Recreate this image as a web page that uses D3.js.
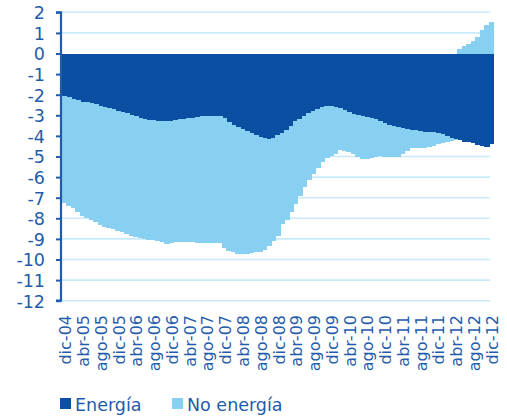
<!DOCTYPE html>
<html>
<head>
<meta charset="utf-8">
<script src="https://cdn.jsdelivr.net/npm/d3@7"></script>
<style>
  html, body { margin: 0; padding: 0; background: #fff; }
  svg { display: block; }
</style>
</head>
<body>
<svg id="chart" width="507" height="417"></svg>
<script>
// ---- Data ----
const monthNames = ["ene","feb","mar","abr","may","jun","jul","ago","sep","oct","nov","dic"];
const startYear = 2004, startMonth = 11; // dic-04
const nMonths = 97;
const categories = [];
for (let k = 0; k < nMonths; k++) {
  const m = (startMonth + k) % 12;
  const y = startYear + Math.floor((startMonth + k) / 12);
  categories.push(monthNames[m] + "-" + String(y % 100).padStart(2, "0"));
}

const energia = [
  -2.06,-2.12,-2.22,-2.28,-2.34,-2.37,-2.41,-2.46,-2.54,-2.60,
  -2.66,-2.71,-2.78,-2.85,-2.90,-2.97,-3.05,-3.14,-3.19,-3.22,
  -3.24,-3.27,-3.29,-3.28,-3.26,-3.22,-3.19,-3.16,-3.13,-3.11,
  -3.08,-3.05,-3.03,-3.02,-3.02,-3.03,-3.15,-3.32,-3.45,-3.58,
  -3.68,-3.77,-3.86,-3.95,-4.03,-4.10,-4.15,-4.12,-3.95,-3.88,
  -3.70,-3.50,-3.30,-3.17,-3.02,-2.88,-2.77,-2.68,-2.60,-2.56,
  -2.55,-2.60,-2.66,-2.76,-2.85,-2.93,-2.99,-3.05,-3.10,-3.15,
  -3.20,-3.30,-3.38,-3.47,-3.54,-3.58,-3.62,-3.65,-3.69,-3.72,
  -3.77,-3.82,-3.83,-3.83,-3.88,-3.93,-4.00,-4.08,-4.15,-4.21,
  -4.28,-4.32,-4.36,-4.42,-4.50,-4.53,-4.40
];

const noEnergia = [
  -5.18,-5.28,-5.30,-5.42,-5.53,-5.63,-5.69,-5.74,-5.78,-5.80,
  -5.81,-5.81,-5.82,-5.83,-5.88,-5.90,-5.88,-5.82,-5.81,-5.82,
  -5.82,-5.83,-5.85,-5.98,-5.94,-5.94,-5.95,-5.99,-6.03,-6.06,
  -6.10,-6.16,-6.16,-6.16,-6.18,-6.19,-6.31,-6.26,-6.20,-6.17,
  -6.06,-5.96,-5.84,-5.71,-5.59,-5.46,-5.20,-4.98,-4.90,-4.42,
  -4.40,-4.20,-4.00,-3.73,-3.48,-3.27,-3.08,-2.87,-2.65,-2.49,
  -2.42,-2.28,-2.04,-1.96,-1.95,-1.97,-2.03,-2.07,-2.00,-1.91,
  -1.80,-1.68,-1.62,-1.57,-1.48,-1.42,-1.28,-1.10,-0.89,-0.85,
  -0.83,-0.78,-0.72,-0.64,-0.52,-0.40,-0.28,-0.15,-0.05, 0.20,
   0.37, 0.48, 0.62, 0.82, 1.12, 1.36, 1.55
];

const seriesNames = ["Energía", "No energía"];
const yTicks = [2,1,0,-1,-2,-3,-4,-5,-6,-7,-8,-9,-10,-11,-12];
const tickLabels = ["dic-04","abr-05","ago-05","dic-05","abr-06","ago-06","dic-06","abr-07","ago-07","dic-07",
  "abr-08","ago-08","dic-08","abr-09","ago-09","dic-09","abr-10","ago-10","dic-10","abr-11","ago-11","dic-11",
  "abr-12","ago-12","dic-12"];

// ---- Styles ----
const colors = { "Energía": "#0b4fa2", "No energía": "#88d0f2" };
const axisColor = "#1f5cab";
const gridColor = "#c9eaf8";
const font = "'DejaVu Sans', sans-serif";

// ---- Build ----
const rows = categories.map((c, i) => ({ cat: c, "Energía": energia[i], "No energía": noEnergia[i] }));
const stack = d3.stack().keys(seriesNames).offset(d3.stackOffsetDiverging);
const stacked = stack(rows);

const svg = d3.select("#chart");
const x = d3.scaleBand().domain(categories).range([62, 493]).padding(0);
const y = d3.scaleLinear().domain([-12, 2]).range([300.7, 12.3]);

// gridlines
svg.append("g").selectAll("line").data(yTicks.filter(t => t !== 0)).join("line")
  .attr("x1", 62).attr("x2", 490)
  .attr("y1", d => y(d)).attr("y2", d => y(d))
  .attr("stroke", gridColor).attr("stroke-width", 1.6);

// bars
svg.append("g").attr("shape-rendering", "crispEdges")
  .selectAll("g").data(stacked).join("g")
  .attr("fill", d => colors[d.key])
  .selectAll("rect").data(d => d).join("rect")
  .attr("x", d => x(d.data.cat))
  .attr("width", x.bandwidth() + 1)
  .attr("y", d => y(Math.max(d[0], d[1])))
  .attr("height", d => Math.abs(y(d[0]) - y(d[1])));

// y axis
const yAxis = d3.axisLeft(y).tickValues(yTicks).tickSize(5).tickPadding(11).tickFormat(d3.format("d"));
const gy = svg.append("g").attr("transform", "translate(61,0)").call(yAxis);
gy.select(".domain").attr("stroke", axisColor).attr("stroke-width", 2.2).attr("d", `M-5,${y(2)}H0V${y(-12)}H-5`);
gy.selectAll(".tick line").attr("stroke", axisColor).attr("stroke-width", 2);
gy.selectAll(".tick text")
  .attr("fill", axisColor).attr("font-family", font).attr("font-size", 17.5).attr("dy", "0.36em")
  .text(d => d < 0 ? "-" + Math.abs(d) : d);

// x labels
const labelSet = new Set(tickLabels);
svg.append("g").selectAll("text").data(categories.filter(c => labelSet.has(c))).join("text")
  .attr("transform", d => `translate(${x(d) + x.bandwidth() / 2 + 7},315) rotate(-90)`)
  .attr("text-anchor", "end")
  .attr("fill", axisColor)
  .attr("font-family", font)
  .attr("font-size", 16)
  .text(d => d);

// legend
const legend = svg.append("g");
const legendX = [60, 172];
seriesNames.forEach((s, i) => {
  legend.append("rect").attr("x", legendX[i]).attr("y", 398).attr("width", 11).attr("height", 11).attr("fill", colors[s]);
  legend.append("text").attr("x", legendX[i] + 15).attr("y", 410.5)
    .attr("fill", axisColor).attr("font-family", font).attr("font-size", 17.5).text(s);
});
</script>
</body>
</html>
